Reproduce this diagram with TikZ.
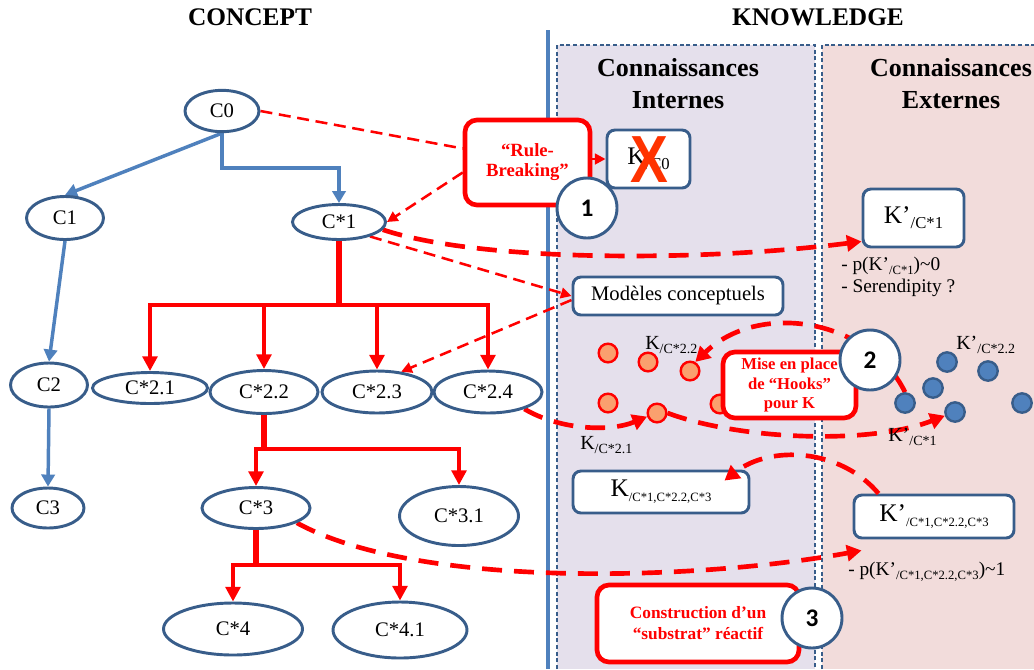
\documentclass[tikz,border=0pt]{standalone}
\usepackage{fontspec}
\setmainfont{Liberation Serif}
\newfontfamily\numfont{Carlito}
\newfontfamily\xfont{Liberation Sans}
\usetikzlibrary{shapes.geometric,arrows.meta,calc}
\definecolor{nodeblue}{RGB}{56,93,138}
\definecolor{arrowblue}{RGB}{79,129,189}
\definecolor{intfill}{RGB}{229,224,236}
\definecolor{extfill}{RGB}{242,220,219}
\definecolor{dotorange}{RGB}{250,160,110}
\definecolor{xred}{RGB}{255,51,0}
\newcommand{\ksub}[2]{\raisebox{-0.45ex}{\fontsize{#1}{#1}\selectfont #2}}
\pgfdeclarelayer{bg}
\pgfdeclarelayer{conn}
\pgfdeclarelayer{top}
\pgfsetlayers{bg,conn,main,top}
\tikzset{
 cnode/.style={ellipse, draw=nodeblue, line width=2.2pt, fill=white, inner sep=0pt, font=\fontsize{15.5}{18}\selectfont},
 kbox/.style={rectangle, rounded corners=6pt, draw=nodeblue, line width=2.2pt, fill=white, inner sep=0pt, font=\fontsize{19}{22}\selectfont},
 callout/.style={rectangle, rounded corners=9pt, draw=red, line width=3.5pt, fill=white, inner sep=0pt, align=center, text=red, font=\bfseries\fontsize{13}{14.5}\selectfont},
 numcirc/.style={circle, draw=nodeblue, line width=2.2pt, fill=white, minimum size=45pt, inner sep=0pt, font=\numfont\bfseries\fontsize{19}{19}\selectfont},
 bluearr/.style={draw=arrowblue, line width=2.6pt, -{Triangle[width=10pt,length=9pt]}},
 redstem/.style={draw=red, line width=4pt},
 redbar/.style={draw=red, line width=3.4pt, line cap=rect},
 redtree/.style={draw=red, line width=3.4pt, -{Triangle[width=11pt,length=11pt]}},
 thinred/.style={draw=red, line width=1.9pt, dash pattern=on 9pt off 5pt},
 thinarr/.style={thinred, -{Triangle[width=8pt,length=8pt]}},
 thickarr/.style={draw=red, line width=3.5pt, dash pattern=on 15pt off 9pt, -{Triangle[width=12pt,length=11pt]}},
 odot/.style={circle, draw=red, line width=1.8pt, fill=dotorange, minimum size=14pt, inner sep=0pt},
 bdot/.style={circle, draw=nodeblue, line width=1.8pt, fill=arrowblue, minimum size=14.5pt, inner sep=0pt},
 hdr/.style={font=\bfseries\fontsize{19}{22}\selectfont, inner sep=0pt},
 ptitle/.style={font=\bfseries\fontsize{19.5}{24}\selectfont, align=center, inner sep=0pt},
 notetxt/.style={font=\fontsize{14.5}{16.5}\selectfont, align=left, inner sep=0pt},
 dlab/.style={font=\fontsize{15}{17}\selectfont, inner sep=0pt},
 panelline/.style={draw=nodeblue, line width=0.8pt, dash pattern=on 3pt off 2pt},
}
\begin{document}
\begin{tikzpicture}[x=0.75pt,y=-0.75pt]
\useasboundingbox (0,0) rectangle (1034,669);

% ---------- background panels ----------
\begin{pgfonlayer}{bg}
\fill[white] (0,0) rectangle (1034,669);
\fill[intfill] (557,45) rectangle (815,669);
\draw[panelline] (557,669) -- (557,45) -- (815,45) -- (815,669);
\fill[extfill] (822,45) rectangle (1034,669);
\draw[panelline] (822,669) -- (822,45) -- (1034,45);
\draw[arrowblue, line width=2.4pt] (548,30) -- (548,669);
\end{pgfonlayer}

\node[hdr] (hconcept) at (250,17) {CONCEPT};
\node[hdr] (hknow) at (818,17) {KNOWLEDGE};
\node[ptitle] (tint) at (678,84) {Connaissances\\Internes};
\node[ptitle] (text) at (951,84) {Connaissances\\Externes};

% ---------- concept tree ----------
\node[cnode, minimum width=55.5pt, minimum height=31pt] (c0) at (222,111) {C0};
\node[cnode, minimum width=57.75pt, minimum height=32.25pt] (c1) at (65,218) {C1};
\node[cnode, minimum width=69.75pt, minimum height=26.25pt] (cs1) at (339,222) {C*1};
\node[cnode, minimum width=57.75pt, minimum height=33pt] (c2) at (49,385) {C2};
\node[cnode, minimum width=54pt, minimum height=30pt] (c3) at (48,508) {C3};
\node[cnode, minimum width=86.25pt, minimum height=23.25pt] (cs21) at (150,388) {C*2.1};
\node[cnode, minimum width=81pt, minimum height=32.25pt] (cs22) at (264,392) {C*2.2};
\node[cnode, minimum width=82.5pt, minimum height=31.5pt] (cs23) at (377,392) {C*2.3};
\node[cnode, minimum width=81pt, minimum height=31.5pt] (cs24) at (488,392) {C*2.4};
\node[cnode, minimum width=81pt, minimum height=30.75pt] (cs3) at (256,508) {C*3};
\node[cnode, minimum width=89.25pt, minimum height=44.25pt] (cs31) at (459,516) {C*3.1};
\node[cnode, minimum width=104.25pt, minimum height=39pt] (cs4) at (233,629) {C*4};
\node[cnode, minimum width=100.5pt, minimum height=42pt] (cs41) at (400,630) {C*4.1};

\coordinate (e1) at (0,168);
\coordinate (b1) at (0,305);
\coordinate (b2) at (0,449);
\coordinate (b3) at (0,565);

\begin{pgfonlayer}{conn}
\draw[bluearr] (c0.south) -- (c1.north);
\draw[bluearr] (c0.south) -- (c0.south |- e1) -| (cs1.north);
\draw[bluearr] (c1.south) -- (c2.north);
\draw[bluearr] (c2.south) -- (c3.north);

\draw[redstem] (cs1.south) -- (cs1.south |- b1);
\draw[redbar] (cs21.north |- b1) -- (cs24.north |- b1);
\foreach \n in {cs21,cs22,cs23,cs24} \draw[redtree] (\n.north |- b1) -- (\n.north);

\draw[redstem] (cs22.south) -- (cs22.south |- b2);
\draw[redbar] (cs3.north |- b2) -- (cs31.north |- b2);
\foreach \n in {cs3,cs31} \draw[redtree] (\n.north |- b2) -- (\n.north);

\draw[redstem] (cs3.south) -- (cs3.south |- b3);
\draw[redbar] (cs4.north |- b3) -- (cs41.north |- b3);
\foreach \n in {cs4,cs41} \draw[redtree] (\n.north |- b3) -- (\n.north);
\end{pgfonlayer}

% ---------- knowledge dots ----------
\node[odot] (od1) at (608,353) {};
\node[odot] (od2) at (648,362) {};
\node[odot] (od3) at (690,371) {};
\node[odot] (od4) at (608,403) {};
\node[odot] (od5) at (657,413) {};
\node[odot] (od6) at (720,404) {};
\node[bdot] (bd1) at (947,362) {};
\node[bdot] (bd2) at (988,371) {};
\node[bdot] (bd3) at (933,388) {};
\node[bdot] (bd4) at (905,403) {};
\node[bdot] (bd5) at (955,412) {};
\node[bdot] (bd6) at (1022,403) {};

\node[dlab, anchor=base west] (lk22) at (645,349) {K\ksub{10.5}{/C*2.2}};
\node[dlab, anchor=base west] (lk21) at (580,449) {K\ksub{10.5}{/C*2.1}};
\node[dlab, anchor=base west] (lkp22) at (956,349) {K’\ksub{10.5}{/C*2.2}};
\node[dlab, anchor=base west] (lkp1) at (888,441) {K’\ksub{10.5}{/C*1}};

% ---------- knowledge boxes ----------
\node[kbox, minimum width=62.25pt, minimum height=43.5pt] (k0) at (648.5,159) {K\ksub{12.5}{/C0}};
\node[text=xred, font=\xfont\bfseries\fontsize{50}{50}\selectfont, inner sep=0pt] (xk0) at (649,160) {\scalebox{0.85}[1]{X}};
\node[kbox, minimum width=75.75pt, minimum height=43.5pt] (kp1) at (913.5,218) {K’\ksub{12.5}{/C*1}};
\node[notetxt, anchor=north west] (note1) at (841,257) {- p(K’\ksub{9.5}{/C*1})\textasciitilde 0\\- Serendipity ?};
\node[kbox, minimum width=157.5pt, minimum height=28.5pt, font=\fontsize{15.5}{18}\selectfont] (mod) at (678,296) {Modèles conceptuels};
\node[kbox, minimum width=132pt, minimum height=31.5pt] (klo) at (661,492) {K\ksub{9.5}{/C*1,C*2.2,C*3}};
\node[kbox, minimum width=120pt, minimum height=32.25pt] (kplo) at (934,516.5) {K’\ksub{9.5}{/C*1,C*2.2,C*3}};
\node[notetxt, anchor=west] (note2) at (848,572) {- p(K’\ksub{9.5}{/C*1,C*2.2,C*3})\textasciitilde 1};

% ---------- callouts ----------
\node[callout, minimum width=93.75pt, minimum height=63.75pt, font=\bfseries\fontsize{14}{15}\selectfont] (rule) at (527.5,162.5) {“Rule-\\Breaking”};
\node[callout, minimum width=99.75pt, minimum height=49.5pt, font=\bfseries\fontsize{12.5}{14.6}\selectfont] (hooks) at (789.5,385) {Mise en place\\de “Hooks”\\pour K};
\node[callout, minimum width=151.5pt, minimum height=57.75pt, font=\bfseries\fontsize{13}{15.75}\selectfont] (constr) at (698,623.5) {Construction d’un\\“substrat” réactif};
\node[numcirc] (n1) at (587,208) {1};
\node[numcirc] (n2) at (870,360) {2};
\node[numcirc] (n3) at (812,618) {3};

% ---------- dashed connectors ----------
\begin{pgfonlayer}{conn}
\draw[thinred] (c0.east) -- ($(rule.west)+(0,-14)$);
\draw[thinarr] ($(rule.west)+(0,10)$) -- (cs1.east);
\draw[thinarr] (rule.east |- k0.west) -- (k0.west);
\draw[thickarr] (cs1.-10) .. controls (480,262) and (700,262) .. ($(kp1.south west)+(0,-7)$);
\draw[thinarr] (cs1.-25) -- (mod.west);
\draw[thinarr] ($(mod.west)+(0,4)$) -- (cs23.40);
\draw[thickarr] (cs24.-25) .. controls (560,430) and (610,432) .. (od5.200);
\draw[thickarr] (od5.east) .. controls (740,440) and (870,445) .. (bd5.200);
\draw[thickarr] (bd4.north) .. controls (870,320) and (760,300) .. (od3.60);
\draw[thickarr] (cs3.-20) .. controls (420,590) and (700,580) .. ($(kplo.south west)+(9,11)$);
\end{pgfonlayer}
\begin{pgfonlayer}{top}
\draw[thickarr] ($(kplo.north west)+(26,0)$) .. controls (840,448) and (770,445) .. ($(klo.north east)+(-26,11)$);
\end{pgfonlayer}
\end{tikzpicture}
\end{document}
